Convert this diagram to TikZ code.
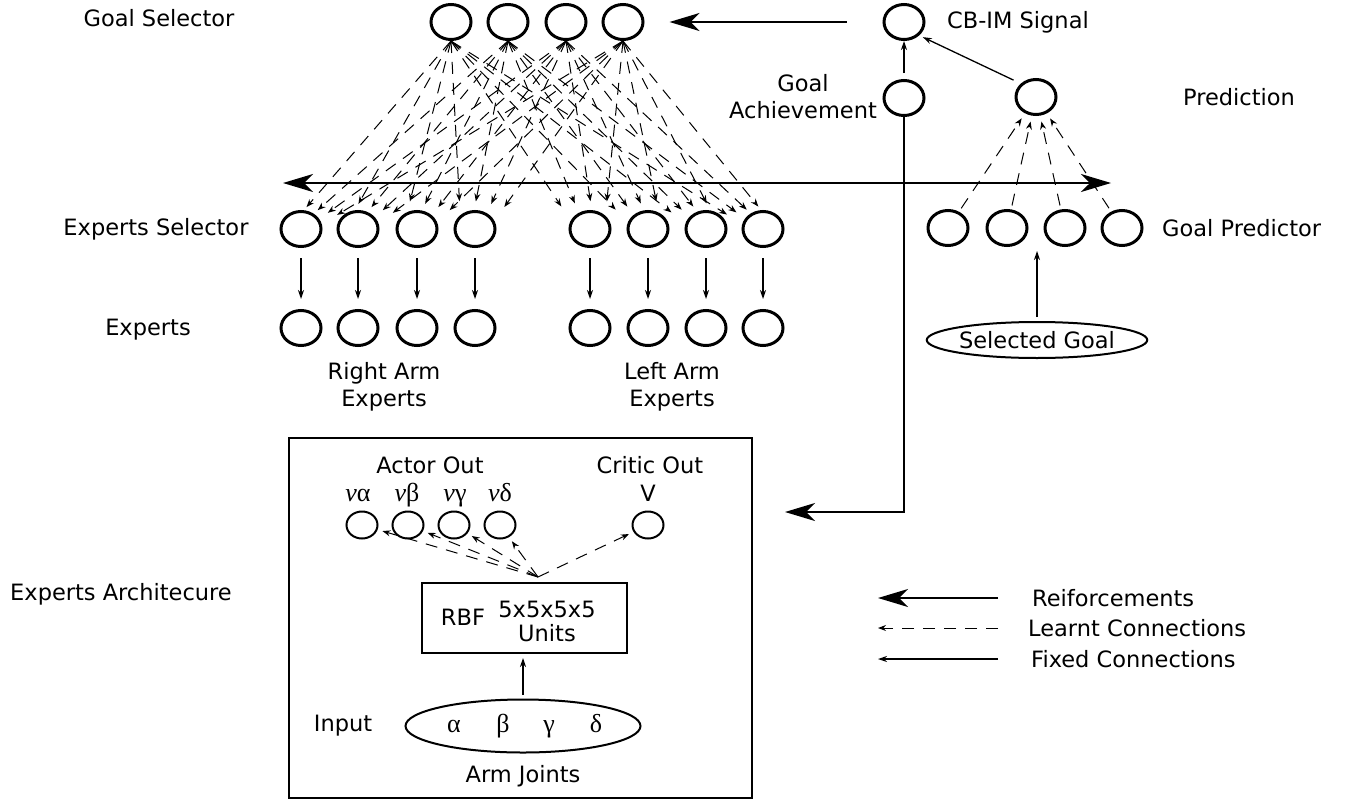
\documentclass[tikz,border=0pt]{standalone}
\usepackage{fontspec}
\setmainfont{DejaVu Sans}
\newfontfamily\grk{Liberation Serif}
\usetikzlibrary{shapes.geometric,arrows.meta,calc}

\tikzset{
  unit/.style={draw,ellipse,line width=3pt,minimum width=40pt,minimum height=35pt,inner sep=0pt},
  smallunit/.style={draw,ellipse,line width=2pt,minimum width=31pt,minimum height=27pt,inner sep=0pt},
  lbl/.style={font=\fontsize{22.5}{27}\selectfont,align=center,inner sep=0pt},
  greek/.style={font=\grk\fontsize{26}{26}\selectfont,inner sep=0pt,anchor=base},
  reinf/.style={line width=1.8pt,-{Stealth[length=30pt,width=18pt,inset=9pt]}},
  learnt/.style={line width=1pt,dash pattern=on 12pt off 9pt,-{Stealth[length=8pt,width=6pt]}},
  fixed/.style={line width=1.3pt,-{Stealth[length=9pt,width=6pt]}},
}

\begin{document}
\begin{tikzpicture}[x=1pt,y=1pt,yscale=-1]
\useasboundingbox (0,0) rectangle (1347,806);

% left hand labels
\node[lbl] (lgs) at (159,18) {Goal Selector};
\node[lbl] (les) at (156,229) {Experts Selector};
\node[lbl] (lex) at (148,330) {Experts};
\node[lbl] (lea) at (121,594) {Experts Architecure};

% goal selector
\node[unit] (gs1) at (451,22) {};
\node[unit] (gs2) at (508,22) {};
\node[unit] (gs3) at (566,22) {};
\node[unit] (gs4) at (623,22) {};

% experts selector and experts
\node[unit] (es1) at (301,229) {};
\node[unit] (es2) at (358,229) {};
\node[unit] (es3) at (417,229) {};
\node[unit] (es4) at (475,229) {};
\node[unit] (es5) at (590,229) {};
\node[unit] (es6) at (648,229) {};
\node[unit] (es7) at (706,229) {};
\node[unit] (es8) at (763,229) {};
\node[unit] (ex1) at (301,328) {};
\node[unit] (ex2) at (358,328) {};
\node[unit] (ex3) at (417,328) {};
\node[unit] (ex4) at (475,328) {};
\node[unit] (ex5) at (590,328) {};
\node[unit] (ex6) at (648,328) {};
\node[unit] (ex7) at (706,328) {};
\node[unit] (ex8) at (763,328) {};
\node[lbl] (lra) at (384,387) {Right Arm\\Experts};
\node[lbl] (lla) at (672,387) {Left Arm\\Experts};

\foreach \g in {1,...,4}
  \foreach \e in {1,...,8}
    \draw[learnt] (gs\g.south) -- ($(es\e)!28pt!(gs\g.south)+(-20+8*\g,0)$);
\foreach \e in {1,...,8}
  \draw[fixed,shorten <=10pt,shorten >=10pt] (es\e) -- (ex\e);

% reinforcement side
\node[unit] (cb) at (904,22) {};
\node[lbl,anchor=west] (lcb) at (947,22) {CB-IM Signal};
\node[unit] (ga) at (904,98) {};
\node[lbl] (lga) at (803,97) {Goal\\Achievement};
\node[unit] (pred) at (1036,97) {};
\node[lbl] (lpred) at (1239,97) {Prediction};

\draw[fixed,shorten <=6pt] (ga.north) -- (cb.south);
\draw[fixed,shorten <=8pt,shorten >=4pt] (pred.north west) -- (cb.south east);
\draw[reinf,shorten <=36pt,shorten >=25pt] (cb) -- (gs4);

\coordinate (hub) at (904,183);
\coordinate (hubl) at (283,183);
\coordinate (hubr) at (1111,183);
\coordinate (archtip) at (785,512);
\draw[reinf] (hub) -- (hubl);
\draw[reinf] (hub) -- (hubr);
\draw[reinf] (ga.south) |- (archtip);

% goal predictor
\node[unit] (gp1) at (948,228) {};
\node[unit] (gp2) at (1007,228) {};
\node[unit] (gp3) at (1065,228) {};
\node[unit] (gp4) at (1122,228) {};
\node[lbl,anchor=west] (lgp) at (1162,228) {Goal Predictor};
\foreach \i in {1,...,4}
  \draw[learnt,shorten <=4pt,shorten >=6pt] (gp\i) -- (pred);

\node[draw,ellipse,line width=2pt,minimum width=170pt,minimum height=36pt,lbl] (sg) at (1037,340) {Selected Goal};
\coordinate (sgtip) at (1037,251);
\draw[fixed,shorten <=4pt] (sg.north) -- (sgtip);

% experts architecture
\draw[line width=2pt] (289,438) rectangle (752,798);
\node[lbl] (lao) at (430,465) {Actor Out};
\node[lbl] (lco) at (650,465) {Critic Out};
\node[greek] (nva) at (358,501) {\itshape ν\upshape α};
\node[greek] (nvb) at (407,501) {\itshape ν\upshape β};
\node[greek] (nvg) at (455,501) {\itshape ν\upshape γ};
\node[greek] (nvd) at (500,501) {\itshape ν\upshape δ};
\node[lbl] (lv) at (648,493) {V};
\node[smallunit] (act1) at (362,525) {};
\node[smallunit] (act2) at (408,525) {};
\node[smallunit] (act3) at (454,525) {};
\node[smallunit] (act4) at (500,525) {};
\node[smallunit] (crit) at (648,525) {};

\coordinate (apex) at (538,577);
\foreach \a in {act1,act2,act3,act4,crit}
  \draw[learnt,shorten >=5pt] (apex) -- (\a);

\node[draw,line width=2pt,minimum width=205pt,minimum height=70pt] (rbf) at (524.5,618) {};
\node[lbl] (lrbf) at (463,617) {RBF};
\node[lbl,font=\fontsize{22.5}{24}\selectfont] (lunits) at (547,621) {5x5x5x5\\Units};

\node[draw,ellipse,line width=2pt,minimum width=235pt,minimum height=53pt] (inp) at (523,726) {};
\node[greek] (ga1) at (454,732) {α};
\node[greek] (ga2) at (503,732) {β};
\node[greek] (ga3) at (549,732) {γ};
\node[greek] (ga4) at (596,732) {δ};
\node[lbl] (linp) at (343,726) {Input};
\node[lbl] (laj) at (523,776) {Arm Joints};
\draw[fixed,shorten <=4pt,shorten >=4pt] (inp.north) -- (inp.north |- rbf.south);

% legend
\coordinate (r1a) at (998,598);
\coordinate (r1b) at (878,598);
\coordinate (r2a) at (998,628);
\coordinate (r2b) at (878,628);
\coordinate (r3a) at (998,659);
\coordinate (r3b) at (878,659);
\draw[reinf] (r1a) -- (r1b);
\draw[learnt] (r2a) -- (r2b);
\draw[fixed] (r3a) -- (r3b);
\node[lbl,anchor=west] (lr1) at (1032,598) {Reiforcements};
\node[lbl,anchor=west] (lr2) at (1028,628) {Learnt Connections};
\node[lbl,anchor=west] (lr3) at (1031,659) {Fixed Connections};
\end{tikzpicture}
\end{document}
